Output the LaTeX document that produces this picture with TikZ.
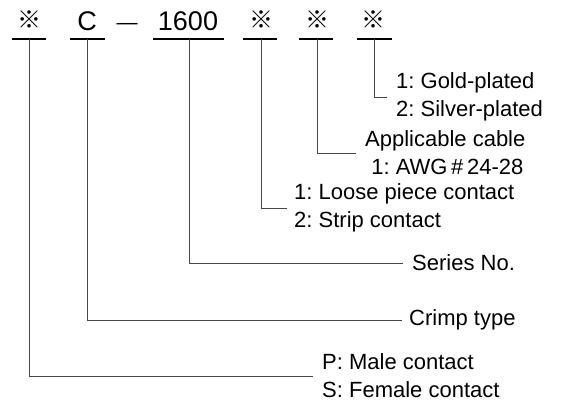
\documentclass[tikz,border=0pt]{standalone}
\usepackage{fontspec}
\setmainfont{Liberation Sans}
\newfontfamily\cjkfont{Noto Sans CJK JP}
\usetikzlibrary{positioning}
\definecolor{LeadGray}{RGB}{70,70,70}
\frenchspacing

\begin{document}
\begin{tikzpicture}[
        x=1pt, y=-1pt,
        code/.style={
            inner sep=0pt,
            font=\fontsize{27}{30}\selectfont
        },
        refmark/.style={
            inner sep=0pt,
            font=\cjkfont\fontsize{24}{26}\selectfont
        },
        bar/.style={
            line width=2pt,
            black
        },
        leader/.style={
            draw=LeadGray,
            line width=0.8pt
        },
        lbl/.style={
            inner sep=0pt,
            anchor=west,
            align=left,
            font=\fontsize{22}{28}\selectfont
        }
    ]
        \useasboundingbox (0,0) rectangle (562,405);

        % part number
        \node[refmark] (sex) at (29,20) {※};
        \node[code, anchor=base] (crimp) at (87,30) {C};
        \node[code, anchor=base, font=\fontsize{21}{24}\selectfont] (dash) at (127,29) {—};
        \node[code, anchor=base] (series) at (188,30) {1600};
        \node[refmark] (form) at (261,20) {※};
        \node[refmark] (cable) at (317,20) {※};
        \node[refmark] (plating) at (373,20) {※};

        \foreach \a/\b in {12/46, 70/105, 153/224, 243/277, 299/333, 357/392}
            \draw[bar] (\a,39) -- (\b,39);

        \coordinate (u1) at (29,39);
        \coordinate (u2) at (87,39);
        \coordinate (u3) at (189,39);
        \coordinate (u4) at (261,39);
        \coordinate (u5) at (317,39);
        \coordinate (u6) at (374,39);

        % meanings
        \node[lbl] (gold) at (396,97) {1: Gold-plated\\2: Silver-plated};
        \node[lbl] (awg) at (365,153) {Applicable cable\\\ 1: AWG\,\#\,24-28};
        \node[lbl] (loose) at (294,208) {1: Loose piece contact\\2: Strip contact};
        \node[lbl] (seriesno) at (412,263) {Series No.};
        \node[lbl] (crimptype) at (409,320) {Crimp type};
        \node[lbl] (male) at (322,376) {P: Male contact\\S: Female contact};

        \draw[leader] (u6) |- ([xshift=-9pt]gold.west);
        \draw[leader] (u5) |- ([xshift=-9pt]awg.west);
        \draw[leader] (u4) |- ([xshift=-7pt]loose.west);
        \draw[leader] (u3) |- ([xshift=-9pt]seriesno.west);
        \draw[leader] (u2) |- ([xshift=-7pt]crimptype.west);
        \draw[leader] (u1) |- ([xshift=-9pt]male.west);
    \end{tikzpicture}
\end{document}
